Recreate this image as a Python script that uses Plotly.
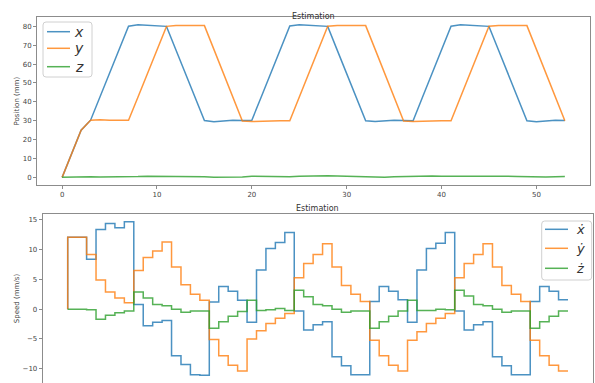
import plotly.graph_objects as go

# ---- data ----
t = list(range(54))

pos_x = [0, 12.5, 25, 30.3, 42.6, 55.1, 67.4, 80.1, 80.8, 80.5, 80.1, 80.0, 67.5, 55.0, 42.4,
         30.1, 29.5, 29.8, 30.2, 30.1, 30.3, 42.7, 55.2, 67.6, 80.2, 80.8, 80.6, 80.2, 80.0,
         67.4, 54.9, 42.5, 30.0, 29.6, 29.9, 30.2, 30.1, 30.0, 42.6, 55.1, 67.5, 80.1, 80.8,
         80.5, 80.1, 80.0, 67.5, 55.0, 42.4, 30.0, 29.5, 29.9, 30.2, 30.1]
pos_y = [0, 12.5, 25, 30.3, 30.5, 30.3, 30.2, 30.2, 42.6, 55.0, 67.5, 80.0, 80.4, 80.5, 80.4,
         80.4, 67.8, 55.1, 42.6, 29.8, 29.6, 29.8, 29.9, 30.0, 30.0, 42.6, 55.0, 67.6, 80.1,
         80.4, 80.4, 80.4, 80.4, 67.8, 55.1, 42.6, 29.8, 29.6, 29.8, 29.9, 30.0, 30.0, 42.6,
         55.0, 67.6, 80.1, 80.4, 80.4, 80.4, 80.4, 67.8, 55.1, 42.6, 30.0]
pos_z = [0, 0.2, 0.3, 0.3, 0.2, 0.2, 0.1, 0.1, 0.4, 0.6, 0.6, 0.6, 0.5, 0.4, 0.3, 0.3, 0.0,
         0.0, 0.1, 0.2, 0.6, 0.5, 0.5, 0.4, 0.3, 0.6, 0.8, 0.9, 0.8, 0.7, 0.6, 0.5, 0.4, 0.1,
         0.1, 0.3, 0.4, 0.8, 0.7, 0.7, 0.6, 0.6, 0.9, 1.0, 0.9, 0.8, 0.7, 0.6, 0.5, 0.4, 0.1,
         0.2, 0.3, 0.4]

vel_x = [0, 12.1, 12.1, 8.4, 13.4, 14.4, 13.7, 14.7, 0.8, -2.8, -2.2, -1.9, -7.8, -9.3, -11.0,
         -11.1, 1.2, 3.8, 3.0, 1.5, -2.2, 6.6, 10.2, 11.2, 12.9, -0.3, -3.5, -2.6, -2.1, -8.0,
         -9.5, -11.0, -11.0, 1.3, 3.8, 3.0, 1.6, -2.2, 6.6, 10.2, 11.1, 12.9, -0.3, -3.5, -2.6,
         -2.1, -8.0, -9.5, -11.0, -11.0, 1.3, 3.8, 3.0, 1.6]
vel_y = [0, 12.1, 12.1, 9.2, 4.9, 2.9, 1.9, 1.1, 6.5, 8.7, 9.8, 11.3, 7.1, 4.1, 2.5, 1.5, -5.1,
         -7.8, -9.4, -10.4, -5.0, -3.6, -2.4, -1.5, -0.7, 5.3, 7.7, 9.2, 11.0, 7.1, 4.0, 2.5,
         1.3, -5.2, -7.8, -9.4, -10.4, -5.2, -3.8, -2.4, -1.5, -0.7, 5.3, 7.7, 9.2, 11.0, 7.1,
         4.0, 2.5, 1.3, -5.2, -7.8, -9.4, -10.4]
vel_z = [0, 0, 0, -0.1, -1.7, -1.0, -0.6, -0.3, 2.9, 1.9, 0.8, 0.6, 0.0, -0.5, -0.3, -0.3,
         -3.2, -2.1, -1.2, -0.4, 1.5, -0.2, -0.1, 0.1, -0.2, 3.2, 2.1, 0.8, 0.6, 0.0, -0.5,
         -0.3, -0.3, -3.2, -2.1, -1.2, -0.3, 1.5, -0.2, -0.2, 0.0, -0.1, 3.2, 2.2, 0.8, 0.6,
         0.0, -0.5, -0.3, -0.3, -3.2, -2.1, -1.2, -0.3]

pos_names = ["<i>x</i>", "<i>y</i>", "<i>z</i>"]
vel_names = ["<i>x\u0307</i>", "<i>\u1e8f</i>", "<i>\u017c</i>"]
x_ticks = [0, 10, 20, 30, 40, 50]
pos_ticks = [0, 10, 20, 30, 40, 50, 60, 70, 80]
vel_ticks = [-10, -5, 0, 5, 10, 15]

colors = ["#1f77b4", "#ff7f0e", "#2ca02c"]

W, H = 595, 383
fig = go.Figure()

for vals, name, c in zip([pos_x, pos_y, pos_z], pos_names, colors):
    fig.add_trace(go.Scatter(x=t, y=vals, mode="lines", name=name, opacity=0.8,
                             line=dict(color=c, width=1.5),
                             xaxis="x", yaxis="y"))
for vals, name, c in zip([vel_x, vel_y, vel_z], vel_names, colors):
    fig.add_trace(go.Scatter(x=t, y=vals, mode="lines", name=name, opacity=0.8,
                             line=dict(color=c, width=1.5, shape="vh"),
                             xaxis="x2", yaxis="y2"))

tick_font = dict(family="DejaVu Sans", size=7, color="#444")
axis_common = dict(showline=True, linecolor="#8c8c8c", linewidth=1, mirror=True,
                   showgrid=False, zeroline=False, ticks="outside", ticklen=3,
                   tickcolor="#8c8c8c", tickfont=tick_font, automargin=False)

fig.update_layout(
    width=W, height=H,
    margin=dict(l=0, r=0, t=0, b=0),
    paper_bgcolor="white", plot_bgcolor="white",
    showlegend=False,
    xaxis=dict(domain=[37 / W, 590 / W], range=[-2.65, 55.65], tickvals=x_ticks,
               anchor="y", **axis_common),
    yaxis=dict(domain=[1 - 185 / H, 1 - 17.3 / H], range=[-4.05, 84.8], tickvals=pos_ticks,
               anchor="x", title=dict(text="Position (mm)", standoff=2,
                                      font=dict(family="DejaVu Sans", size=7, color="#444")),
               **axis_common),
    xaxis2=dict(domain=[42.7 / W, 593 / W], range=[-2.65, 55.65], tickvals=x_ticks,
                showticklabels=False, anchor="y2", **axis_common),
    yaxis2=dict(domain=[0, 1 - 214 / H], range=[-12.4, 16.0], tickvals=vel_ticks,
                anchor="x2", title=dict(text="Speed (mm/s)", standoff=2,
                                        font=dict(family="DejaVu Sans", size=7, color="#444")),
                **axis_common),
)


def px(x):
    return x / W


def py(y):
    return 1 - y / H


def rounded_box(x0, y0, x1, y1, r=3):
    rx, ry = r / W, r / H
    X0, X1 = px(x0), px(x1)
    Y0, Y1 = py(y0), py(y1)  # Y0 top (larger), Y1 bottom
    return (f"M{X0 + rx},{Y0} L{X1 - rx},{Y0} Q{X1},{Y0} {X1},{Y0 - ry} "
            f"L{X1},{Y1 + ry} Q{X1},{Y1} {X1 - rx},{Y1} L{X0 + rx},{Y1} "
            f"Q{X0},{Y1} {X0},{Y1 + ry} L{X0},{Y0 - ry} Q{X0},{Y0} {X0 + rx},{Y0} Z")


def add_legend(box, line_x, label_x, rows, names, size):
    fig.add_shape(type="path", path=rounded_box(*box), xref="paper", yref="paper",
                  fillcolor="rgba(255,255,255,0.85)", line=dict(color="#d0d0d0", width=1),
                  layer="above")
    for yy, name, c in zip(rows, names, colors):
        fig.add_shape(type="line", x0=px(line_x[0]), x1=px(line_x[1]), y0=py(yy), y1=py(yy),
                      xref="paper", yref="paper", line=dict(color=c, width=1.5),
                      opacity=0.8, layer="above")
        fig.add_annotation(text=name, x=px(label_x), y=py(yy), xref="paper", yref="paper",
                           showarrow=False, xanchor="center", yanchor="middle",
                           font=dict(family="DejaVu Sans", size=size, color="#333"))


add_legend((43, 22, 92, 77), (47, 70), 79, [31.7, 48.3, 66.7], pos_names, 14)
add_legend((541.7, 221, 591.7, 280), (545, 568), 580, [229.3, 248.3, 268.3], vel_names, 13)

title_font = dict(family="DejaVu Sans", size=8, color="#333")
fig.add_annotation(text="Estimation", x=(37 + 590) / 2 / W, y=py(10), xref="paper",
                   yref="paper", showarrow=False, font=title_font)
fig.add_annotation(text="Estimation", x=(42.7 + 593) / 2 / W, y=py(208), xref="paper",
                   yref="paper", showarrow=False, font=title_font)

fig.write_html("out.html", config={"displayModeBar": False},
               post_script="document.body.style.margin='0';document.body.style.padding='0';")
